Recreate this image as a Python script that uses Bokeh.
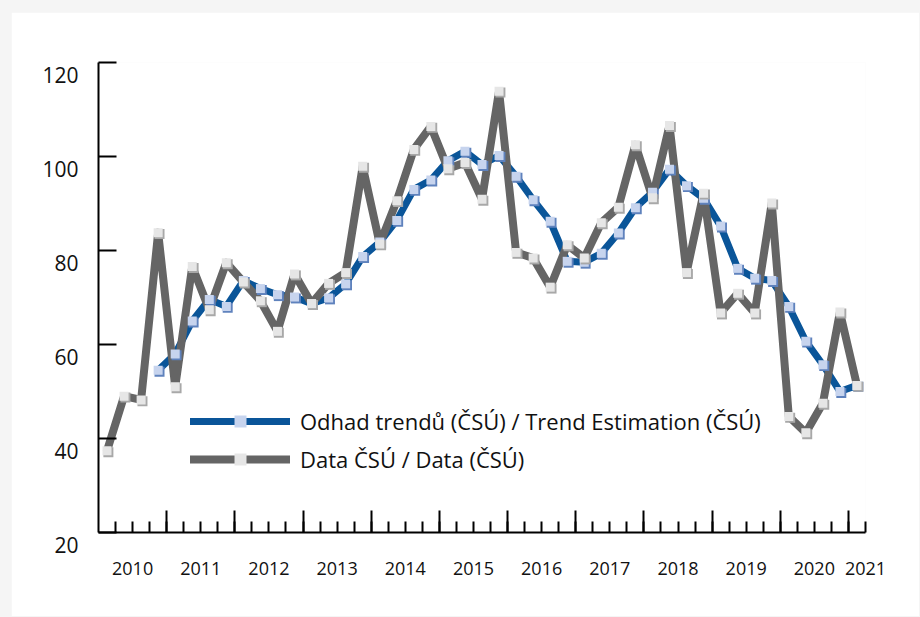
from bokeh.plotting import figure
from bokeh.models import (Range1d, FixedTicker, ColumnDataSource, LinearAxis,
                          Legend, LegendItem)
from bokeh.transform import dodge
from bokeh.embed import file_html
from bokeh.resources import INLINE

NAN = float("nan")

# ---------------- data ----------------
years = ["2010", "2011", "2012", "2013", "2014", "2015", "2016",
         "2017", "2018", "2019", "2020", "2021"]
quarters = [f"{y}Q{q}" for y in years[:-1] for q in (1, 2, 3, 4)] + ["2021Q1"]

data_csu = [37.4, 49.0, 48.2, 83.8,
            51.0, 76.6, 67.4, 77.4,
            73.3, 69.3, 62.8, 75.0,
            68.7, 73.0, 75.3, 97.9,
            81.4, 90.6, 101.5, 106.4,
            97.4, 98.7, 90.9, 113.9,
            79.6, 78.4, 72.2, 81.2,
            78.4, 85.9, 89.2, 102.5,
            91.2, 106.6, 75.3, 92.2,
            66.7, 70.9, 66.7, 90.1,
            44.7, 41.2, 47.5, 66.9,
            51.3]

trend = [NAN, NAN, NAN, 54.5,
         58.0, 65.0, 69.6, 68.1,
         73.6, 71.9, 70.6, 70.1,
         68.7, 69.9, 72.9, 78.7,
         81.8, 86.4, 93.0, 95.0,
         99.1, 101.1, 98.3, 100.2,
         95.8, 90.8, 86.2, 77.7,
         77.5, 79.4, 83.7, 89.1,
         92.4, 97.3, 93.8, 91.1,
         85.2, 76.2, 74.1, 73.6,
         68.1, 60.7, 55.7, 50.0,
         51.3]

y_ticks = [20, 40, 60, 80, 100, 120]
y_tick_labels = [str(v) for v in y_ticks]

label_trend = "Odhad trendů (ČSÚ) / Trend Estimation (ČSÚ)"
label_data = "Data ČSÚ / Data (ČSÚ)"

# ---------------- styles ----------------
FONT = "Open Sans"
BLUE = "#0a5599"
BLUE_MK = "#c7d4ee"
BLUE_SH = "#5f82bd"
GRAY = "#656565"
GRAY_MK = "#e6e6e6"
GRAY_SH = "#a8a8a8"
TXT = "#111111"

n = len(quarters)
xs = [i + 0.5 for i in range(n)]
src = ColumnDataSource(dict(x=xs, q=quarters, data=data_csu, trend=trend))

p = figure(frame_width=767, frame_height=470,
           min_border_left=87, min_border_right=54,
           min_border_top=50, min_border_bottom=84,
           x_range=Range1d(0, n), y_range=Range1d(y_ticks[0], y_ticks[-1]),
           output_backend="svg", toolbar_location=None,
           background_fill_color="white", border_fill_color="white")
p.margin = (12, 0, 0, 11)
p.outline_line_color = None
p.xgrid.visible = False
p.ygrid.visible = False

# y axis: inward ticks; labels sit a little below their ticks (leading blank line)
p.yaxis.ticker = FixedTicker(ticks=y_ticks)
p.yaxis.major_label_overrides = {v: "\n" + t for v, t in zip(y_ticks, y_tick_labels)}
p.yaxis.major_tick_in = 18
p.yaxis.major_tick_out = 0
p.yaxis.minor_tick_line_color = None
p.yaxis.major_label_standoff = 20
p.yaxis.major_label_text_font = FONT
p.yaxis.major_label_text_font_size = "21px"
p.yaxis.major_label_text_line_height = 0.9
p.yaxis.major_label_text_color = TXT
p.yaxis.axis_line_width = 2
p.yaxis.major_tick_line_width = 2
p.yaxis.axis_line_color = "black"
p.yaxis.major_tick_line_color = "black"

# x axis: quarter ticks, taller ticks at year boundaries, no labels
year_bounds = [i for i in range(4, n, 4)]
p.xaxis.ticker = FixedTicker(ticks=year_bounds, minor_ticks=list(range(1, n + 1)))
p.xaxis.major_tick_in = 22
p.xaxis.major_tick_out = 0
p.xaxis.minor_tick_in = 11
p.xaxis.minor_tick_out = 0
p.xaxis.major_label_text_color = None
p.xaxis.axis_line_width = 2
p.xaxis.major_tick_line_width = 2
p.xaxis.minor_tick_line_width = 2
p.xaxis.axis_line_color = "black"
p.xaxis.major_tick_line_color = "black"
p.xaxis.minor_tick_line_color = "black"

# year labels on a second bottom axis (centre of each year's quarters)
year_pos = []
for y in years:
    qx = [xs[i] for i, q in enumerate(quarters) if q.startswith(y)]
    year_pos.append(int(round(sum(qx) / len(qx))) if len(qx) > 1 else n)
xlab_axis = LinearAxis(ticker=FixedTicker(ticks=year_pos),
                       major_label_overrides={v: t for v, t in zip(year_pos, years)},
                       axis_line_color=None, major_tick_line_color=None,
                       minor_tick_line_color=None, major_label_standoff=23,
                       major_label_text_font=FONT, major_label_text_font_size="18px",
                       major_label_text_color=TXT)
p.add_layout(xlab_axis, "below")

# lines
r_tl = p.line("x", "trend", source=src, line_color=BLUE, line_width=7,
              line_join="round", line_cap="round")
r_dl = p.line("x", "data", source=src, line_color=GRAY, line_width=8,
              line_join="round", line_cap="round")

# markers (shadow + face)
r_ts = p.scatter(dodge("x", 0.08, range=p.x_range), dodge("trend", -0.3, range=p.y_range),
                 source=src, marker="square", size=10, fill_color=BLUE_SH, line_color=None)
r_tm = p.scatter("x", "trend", source=src, marker="square", size=9,
                 fill_color=BLUE_MK, line_color=None)
r_ds = p.scatter(dodge("x", 0.08, range=p.x_range), dodge("data", -0.3, range=p.y_range),
                 source=src, marker="square", size=10, fill_color=GRAY_SH, line_color=None)
r_dm = p.scatter("x", "data", source=src, marker="square", size=9,
                 fill_color=GRAY_MK, line_color=None)

# legend
legend = Legend(items=[LegendItem(label=label_trend, renderers=[r_tl, r_tm]),
                       LegendItem(label=label_data, renderers=[r_dl, r_dm])],
                location=(92, 58), orientation="vertical",
                glyph_width=100, glyph_height=30, label_height=30,
                spacing=8, padding=0, margin=0, label_standoff=10,
                label_text_font=FONT, label_text_font_size="22px",
                label_text_color=TXT, border_line_color=None,
                background_fill_alpha=0)
p.add_layout(legend)

html = file_html(p, INLINE)
html = html.replace("</head>", "<style>html, body { background: #f5f5f5; }</style></head>", 1)
open("out.html", "w").write(html)
